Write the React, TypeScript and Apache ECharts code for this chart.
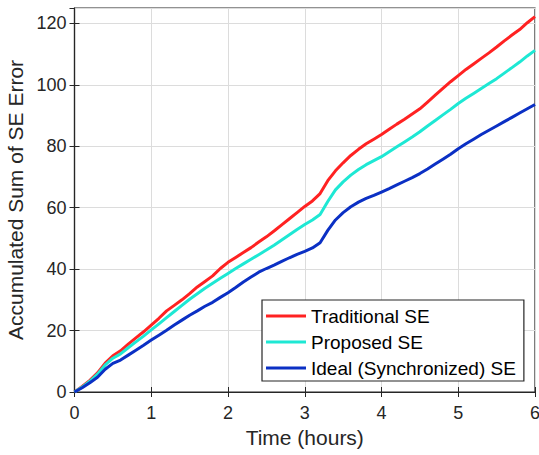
import React, { useEffect, useRef } from "react";
import * as echarts from "echarts";

const hours = [0, 0.1, 0.2, 0.3, 0.4, 0.5, 0.6, 0.7, 0.8, 0.9, 1.0, 1.1, 1.2, 1.3, 1.4, 1.5, 1.6, 1.7, 1.8, 1.9, 2.0, 2.1, 2.2, 2.3, 2.4, 2.5, 2.6, 2.7, 2.8, 2.9, 3.0, 3.1, 3.2, 3.3, 3.4, 3.5, 3.6, 3.7, 3.8, 3.9, 4.0, 4.1, 4.2, 4.3, 4.4, 4.5, 4.6, 4.7, 4.8, 4.9, 5.0, 5.1, 5.2, 5.3, 5.4, 5.5, 5.6, 5.7, 5.8, 5.9, 6.0];

const traditionalSE = [0, 1.8, 3.8, 6.2, 9.4, 11.8, 13.4, 15.6, 17.6, 19.6, 21.8, 24.0, 26.4, 28.2, 30.0, 32.0, 34.2, 36.0, 37.8, 40.2, 42.2, 43.8, 45.4, 47.0, 48.8, 50.5, 52.4, 54.4, 56.4, 58.4, 60.4, 62.2, 64.6, 68.8, 72.0, 74.6, 77.0, 79.0, 80.8, 82.3, 83.8, 85.5, 87.2, 88.8, 90.5, 92.2, 94.4, 96.6, 98.8, 101.0, 103.0, 105.0, 106.8, 108.6, 110.4, 112.3, 114.3, 116.2, 118.0, 120.2, 122.2];

const proposedSE = [0, 1.6, 3.5, 5.8, 8.8, 11.0, 12.4, 14.4, 16.3, 18.2, 20.2, 22.2, 24.2, 26.2, 28.2, 30.2, 32.0, 33.8, 35.4, 37.0, 38.6, 40.2, 41.7, 43.2, 44.7, 46.2, 47.8, 49.5, 51.2, 52.9, 54.5, 56.0, 57.8, 62.0, 65.8, 68.4, 70.6, 72.4, 74.0, 75.3, 76.6, 78.2, 79.8, 81.4, 83.0, 84.7, 86.6, 88.4, 90.2, 92.0, 93.9, 95.6, 97.2, 98.8, 100.4, 102.0, 103.8, 105.6, 107.4, 109.4, 111.2];

const idealSE = [0, 1.4, 3.0, 4.8, 7.4, 9.3, 10.4, 12.0, 13.6, 15.2, 16.9, 18.5, 20.1, 21.8, 23.4, 25.0, 26.4, 27.9, 29.2, 30.8, 32.3, 34.0, 35.8, 37.4, 39.0, 40.2, 41.3, 42.5, 43.7, 44.8, 45.8, 46.9, 48.6, 52.6, 56.0, 58.4, 60.3, 61.8, 63.0, 64.0, 65.1, 66.2, 67.4, 68.6, 69.8, 71.1, 72.6, 74.2, 75.8, 77.4, 79.2, 80.8, 82.3, 83.8, 85.2, 86.6, 88.0, 89.4, 90.8, 92.2, 93.6];

const seriesNames = ["Traditional SE", "Proposed SE", "Ideal (Synchronized) SE"];
const seriesColors = ["#ff2222", "#1ee8d4", "#0b30c4"];
const xTicks = [0, 1, 2, 3, 4, 5, 6];
const yTicks = [0, 20, 40, 60, 80, 100, 120];

const FONT = "'Liberation Sans', Arial, Helvetica, sans-serif";
const INK = "#262626";

export default function App() {
  const ref = useRef<HTMLDivElement>(null);
  useEffect(() => {
    if (!ref.current) return;
    const chart = echarts.init(ref.current, undefined, { renderer: "svg" });
    const datasets = [traditionalSE, proposedSE, idealSE];
    const tickStyle = { show: true, inside: true, length: 5, lineStyle: { color: INK, width: 1 } };
    chart.setOption({
      animation: false,
      backgroundColor: "#ffffff",
      grid: {
        left: 74.5,
        right: 4,
        top: 8,
        bottom: 63,
        show: true,
        borderColor: INK,
        borderWidth: 1.2,
        backgroundColor: "transparent",
        outerBoundsMode: "none",
        containLabel: false,
      },
      legend: {
        data: seriesNames,
        orient: "vertical",
        left: 262,
        top: 300,
        itemWidth: 40,
        itemHeight: 3,
        itemGap: 6,
        icon: "rect",
        padding: [6, 8, 3, 4],
        borderColor: INK,
        borderWidth: 1.2,
        backgroundColor: "#ffffff",
        textStyle: { fontFamily: FONT, fontSize: 19, color: "#000000", lineHeight: 20 },
      },
      xAxis: [
        {
          type: "value",
          min: xTicks[0],
          max: xTicks[xTicks.length - 1],
          interval: 1,
          name: "Time (hours)",
          nameLocation: "middle",
          nameGap: 35,
          nameTextStyle: { fontFamily: FONT, fontSize: 21, color: INK, verticalAlign: "top" },
          axisLine: { show: true, onZero: false, lineStyle: { color: INK, width: 1.2 } },
          axisTick: tickStyle,
          axisLabel: { fontFamily: FONT, fontSize: 18, color: INK, margin: 12 },
          splitLine: { show: true, lineStyle: { color: "#dcdcdc", width: 1 } },
        },
        {
          type: "value",
          position: "top",
          min: xTicks[0],
          max: xTicks[xTicks.length - 1],
          interval: 1,
          axisLine: { show: false },
          axisTick: tickStyle,
          axisLabel: { show: false },
          splitLine: { show: false },
        },
      ],
      yAxis: [
        {
          type: "value",
          min: yTicks[0],
          max: 125,
          interval: 20,
          name: "Accumulated Sum of SE Error",
          nameLocation: "middle",
          nameGap: 44,
          nameRotate: 90,
          nameTextStyle: { fontFamily: FONT, fontSize: 21, color: INK },
          axisLine: { show: true, onZero: false, lineStyle: { color: INK, width: 1.2 } },
          axisTick: tickStyle,
          axisLabel: { fontFamily: FONT, fontSize: 18, color: INK, margin: 8, showMaxLabel: false },
          splitLine: { show: true, lineStyle: { color: "#dcdcdc", width: 1 } },
        },
        {
          type: "value",
          position: "right",
          min: yTicks[0],
          max: 125,
          interval: 20,
          axisLine: { show: false },
          axisTick: tickStyle,
          axisLabel: { show: false },
          splitLine: { show: false },
        },
      ],
      series: datasets.map((d, i) => ({
        name: seriesNames[i],
        type: "line",
        data: hours.map((h, j) => [h, d[j]]),
        showSymbol: false,
        symbol: "none",
        lineStyle: { color: seriesColors[i], width: 3 },
        itemStyle: { color: seriesColors[i] },
        z: 3,
      })),
    });
    return () => chart.dispose();
  }, []);
  return (
    <div
      ref={ref}
      style={{ position: "fixed", left: 0, top: 0, width: 539, height: 455, background: "#fff" }}
    />
  );
}
